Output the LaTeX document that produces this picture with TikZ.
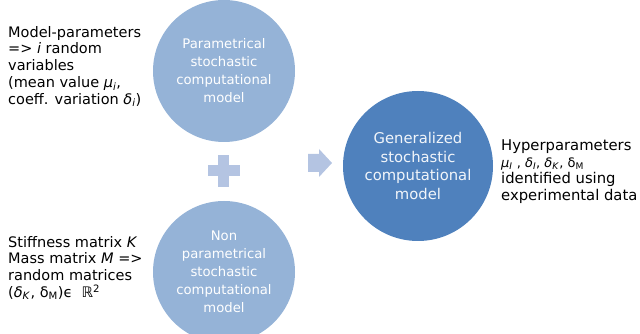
\documentclass[tikz,border=0pt]{standalone}
\usepackage{fontspec}
\setmainfont{DejaVu Sans}
\usepackage{xcolor}
\usepackage{tikz}

\definecolor{paramblue}{RGB}{149,179,215}
\definecolor{genblue}{RGB}{79,129,189}
\definecolor{signblue}{RGB}{180,196,226}
\newcommand{\hyp}[2]{\textit{#1}\textsubscript{\textit{#2}}}

\begin{document}
\begin{tikzpicture}[x = 1pt, y = 1pt,
    model/.style = {circle, fill = paramblue, text = white, align = center,
      minimum size = 142pt, inner sep = 0pt,
      font = \fontsize{13.2}{18}\selectfont},
    note/.style = {anchor = north west, align = left, inner sep = 0pt,
      font = \fontsize{14.5}{16.7}\selectfont}]
  \useasboundingbox (0,0) rectangle (640,334);
  \clip (0,0) rectangle (640,334);

  % the two stochastic models
  \node[model] (param) at (224,263) {Parametrical\\stochastic\\computational\\model};
  \node[model] (nonparam) at (224,62) {Non\\parametrical\\stochastic\\computational\\model};
  \node[model, fill = genblue, text = white!92!genblue, minimum size = 150pt,
    font = \fontsize{14.8}{18.5}\selectfont] (general) at (418,168)
    {Generalized\\stochastic\\computational\\model};

  % plus and arrow
  \fill[signblue] (208,158) rectangle (240,169);
  \fill[signblue] (218,147) rectangle (229,179);
  \fill[signblue] (308,162) -- (319,162) -- (319,157) -- (332,171)
    -- (319,185) -- (319,180) -- (308,180) -- cycle;

  % notes
  \node[note] (paramnote) at (8,308) {Model-parameters\\
    => \textit{i} random\\
    variables\\
    (mean value \hyp{μ}{i},\\
    coeff. variation \hyp{δ}{i})};
  \node[note] (nonparamnote) at (8,98) {Stiffness matrix \textit{K}\\
    Mass matrix \textit{M} =>\\
    random matrices\\
    (\hyp{δ}{K}, δ\textsubscript{M})ϵ~ ℝ\textsuperscript{2}};
  \node[note, font = \fontsize{14.8}{16.5}\selectfont] (generalnote) at (501,194)
    {Hyperparameters\\
    {\fontsize{13}{16.5}\selectfont\hyp{μ}{I} , \hyp{δ}{I}, \hyp{δ}{K}, δ\textsubscript{M}}\\
    identified using\\
    experimental data};
\end{tikzpicture}
\end{document}
